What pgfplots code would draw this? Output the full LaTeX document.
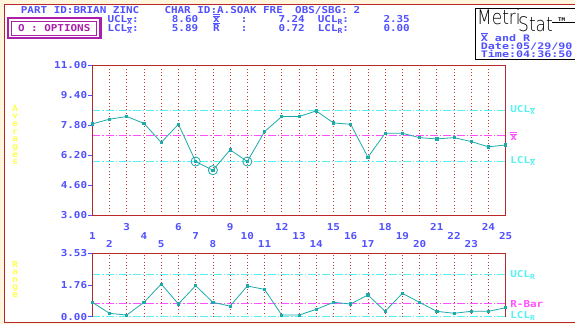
\documentclass[border=0pt]{standalone}
\usepackage{fontspec}
\usepackage{pgfplots}
\usepackage{pgfplotstable}
\pgfplotsset{compat=1.18}
\setmainfont{DejaVu Sans Mono}
\newfontfamily\retro[FakeStretch=1.15]{DejaVu Sans Mono}
\newfontfamily\retrow[FakeStretch=1.3]{DejaVu Sans Mono}
\newfontfamily\logof[FakeStretch=0.85]{DejaVuSans-ExtraLight.ttf}
\definecolor{tblue}{RGB}{80,80,255}
\definecolor{fred}{RGB}{185,40,40}
\definecolor{gred}{RGB}{205,50,50}
\definecolor{lcyan}{RGB}{90,240,240}
\definecolor{lmag}{RGB}{255,80,255}
\definecolor{tealc}{RGB}{30,170,170}
\definecolor{yel}{RGB}{255,255,80}
\definecolor{cream}{RGB}{255,245,220}
\definecolor{optm}{RGB}{170,30,170}
\newcommand\hdr{\retro\bfseries\fontsize{9.5}{10}\selectfont}
\newcommand\subX{\raisebox{-2pt}{\fontsize{7}{7}\selectfont$\overline{\hbox{X}}$}}
\newcommand\subR{\raisebox{-2pt}{\fontsize{7}{7}\selectfont R}}
\newcommand\xbb{$\overline{\overline{\hbox{x}}}$}
\newcommand\Rbar{$\overline{\hbox{R}}$}
\pgfplotstableread{
x avg rng
1 7.87 0.80
2 8.12 0.19
3 8.26 0.09
4 7.90 0.80
5 6.88 1.82
6 7.85 0.71
7 5.87 1.73
8 5.41 0.80
9 6.49 0.59
10 5.87 1.71
11 7.46 1.52
12 8.26 0.09
13 8.26 0.09
14 8.56 0.41
15 7.92 0.80
16 7.85 0.71
17 6.10 1.21
18 7.37 0.30
19 7.37 1.30
20 7.14 0.80
21 7.07 0.30
22 7.14 0.19
23 6.93 0.30
24 6.65 0.30
25 6.75 0.50
}\data
\pgfplotsset{
  spcbase/.style={
    scale only axis, width=413.4pt, xmin=1, xmax=25, clip=false,
    axis line style={draw=none},
    xtick={1,...,25}, xticklabel=\empty, xtick style={draw=none},
    xmajorgrids, x grid style={gred, line width=0.7pt, dash pattern=on 0.8pt off 2.6pt},
    ytick pos=left, tick align=outside, ytick style={tblue, line width=0.8pt},
    major tick length=4pt,
    yticklabel style={font=\hdr, text=tblue, inner sep=1pt},
  },
  refl/.style={line width=1pt, dash pattern=on 8pt off 2pt on 1.5pt off 2pt, forget plot},
}
\begin{document}
\begin{tikzpicture}
\useasboundingbox (0pt,0pt) rectangle (575pt,-324pt);
\fill[cream] (0pt,0pt) rectangle (575pt,-324pt);
\fill[white] (4.3pt,-4.3pt) rectangle (575pt,-322.7pt);
\draw[fred, line width=1.2pt] (575pt,-4.3pt) -- (4.3pt,-4.3pt) -- (4.3pt,-322.7pt) -- (575pt,-322.7pt);
% header
\begin{scope}[every node/.style={anchor=base west, inner sep=0pt, font=\hdr, text=tblue}]
\node at (20.7pt,-13.3pt) {PART ID:BRIAN ZINC};
\node at (164.3pt,-13.3pt) {CHAR ID:A.SOAK FRE};
\node at (295pt,-13.3pt) {OBS/SBG:};
\node at (353.5pt,-13.3pt) {2};
\node at (107.3pt,-22.3pt) {UCL\subX:};
\node at (171.7pt,-22.3pt) {8.60};
\node at (213pt,-22.3pt) {\xbb};
\node at (240.7pt,-22.3pt) {:};
\node at (278.3pt,-22.3pt) {7.24};
\node at (317.7pt,-22.3pt) {UCL\subR:};
\node at (383.3pt,-22.3pt) {2.35};
\node at (107.3pt,-31.3pt) {LCL\subX:};
\node at (171.7pt,-31.3pt) {5.89};
\node at (213pt,-31.3pt) {\Rbar};
\node at (240.7pt,-31.3pt) {:};
\node at (278.3pt,-31.3pt) {0.72};
\node at (317.7pt,-31.3pt) {LCL\subR:};
\node at (383.3pt,-31.3pt) {0.00};
\end{scope}
% options box
\draw[optm, line width=2.5pt] (7.95pt,-17.95pt) rectangle (100.45pt,-38.05pt);
\draw[optm, line width=0.8pt] (11.6pt,-21pt) rectangle (96.8pt,-35pt);
\node[font=\hdr, text=optm, inner sep=0pt] at (54.2pt,-27.8pt) {O : OPTIONS};
% logo
\draw[black, line width=0.8pt] (576pt,-8pt) -- (475.7pt,-8pt) -- (475.7pt,-59pt) -- (576pt,-59pt);
\node[anchor=base west, inner sep=0pt, font=\logof\fontsize{20}{20}\selectfont] at (477pt,-24.5pt) {Metri};
\node[anchor=base west, inner sep=0pt, font=\logof\fontsize{20}{20}\selectfont] at (518pt,-31.5pt) {Stat};
\node[anchor=base west, inner sep=0pt, font=\retro\bfseries\fontsize{5}{6}\selectfont] at (558pt,-21pt) {TM};
\draw[black, line width=0.6pt] (552pt,-22.7pt) -- (575pt,-22.7pt);
\begin{scope}[every node/.style={anchor=base west, inner sep=0pt, font=\retrow\bfseries\fontsize{9}{9}\selectfont, text=tblue}]
\node at (480.7pt,-41.5pt) {$\overline{\hbox{X}}$ and R};
\node at (480.7pt,-49.6pt) {Date:05/29/90};
\node at (480.7pt,-57.7pt) {Time:04:36:50};
\end{scope}
% side labels
\node[text=yel, font=\retro\bfseries\fontsize{8.5}{7.6}\selectfont, align=center, anchor=north, inner sep=0pt] at (15pt,-105pt) {A\\v\\e\\r\\a\\g\\e\\s};
\node[text=yel, font=\retro\bfseries\fontsize{8.5}{7.4}\selectfont, align=center, anchor=north, inner sep=0pt] at (15pt,-261pt) {R\\a\\n\\g\\e};
% averages chart
\begin{axis}[spcbase, at={(92.3pt,-215.5pt)}, anchor=south west, height=150.5pt,
  ymin=3, ymax=11,
  ytick={3,4.6,6.2,7.8,9.4,11}, yticklabels={3.00,4.60,6.20,7.80,9.40,11.00}]
\addplot[lcyan, refl] coordinates {(1,8.60) (25,8.60)};
\addplot[lmag, refl] coordinates {(1,7.24) (25,7.24)};
\addplot[lcyan, refl] coordinates {(1,5.89) (25,5.89)};
\addplot[tealc, line width=0.8pt, mark=square*, mark size=1.1pt] table[x=x, y=avg] {\data};
\addplot[tealc, only marks, mark=o, mark size=4.6pt, line width=0.8pt] coordinates {(7,5.87) (8,5.41) (10,5.87)};
\draw[fred, line width=1pt] (rel axis cs:0,0) rectangle (rel axis cs:1,1);
\node[anchor=west, xshift=4.5pt, inner sep=0pt, font=\hdr, text=lcyan] at (axis cs:25,8.60) {UCL\subX};
\node[anchor=west, xshift=4.5pt, inner sep=0pt, font=\hdr, text=lmag] at (axis cs:25,7.24) {\xbb};
\node[anchor=west, xshift=4.5pt, inner sep=0pt, font=\hdr, text=lcyan] at (axis cs:25,5.89) {LCL\subX};
\pgfplotsinvokeforeach{3,6,...,24}{\node[anchor=base, yshift=-14.5pt, inner sep=0pt, font=\hdr, text=tblue] at (axis cs:#1,3) {#1};}
\pgfplotsinvokeforeach{1,4,...,25}{\node[anchor=base, yshift=-23.5pt, inner sep=0pt, font=\hdr, text=tblue] at (axis cs:#1,3) {#1};}
\pgfplotsinvokeforeach{2,5,...,23}{\node[anchor=base, yshift=-32.3pt, inner sep=0pt, font=\hdr, text=tblue] at (axis cs:#1,3) {#1};}
\end{axis}
% range chart
\begin{axis}[spcbase, at={(92.3pt,-316.7pt)}, anchor=south west, height=63.4pt,
  ymin=0, ymax=3.53,
  ytick={0,1.765,3.53}, yticklabels={0.00,1.76,3.53}]
\addplot[lcyan, refl] coordinates {(1,2.35) (25,2.35)};
\addplot[lmag, refl] coordinates {(1,0.72) (25,0.72)};
\addplot[lcyan, refl] coordinates {(1,0) (25,0)};
\addplot[tealc, line width=0.8pt, mark=square*, mark size=1.1pt] table[x=x, y=rng] {\data};
\draw[fred, line width=1pt] (rel axis cs:0,0) -- (rel axis cs:0,1) -- (rel axis cs:1,1) -- (rel axis cs:1,0);
\node[anchor=west, xshift=4.5pt, inner sep=0pt, font=\hdr, text=lcyan] at (axis cs:25,2.35) {UCL\subR};
\node[anchor=west, xshift=4.5pt, inner sep=0pt, font=\hdr, text=lmag] at (axis cs:25,0.72) {R-Bar};
\node[anchor=west, xshift=4.5pt, yshift=0.5pt, inner sep=0pt, font=\hdr, text=lcyan] at (axis cs:25,0) {LCL\subR};
\end{axis}
\end{tikzpicture}
\end{document}
